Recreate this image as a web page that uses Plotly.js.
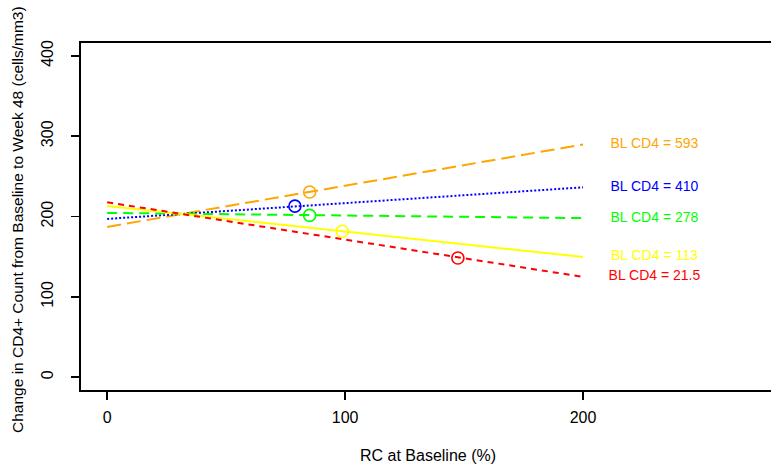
<!DOCTYPE html>
<html>
<head>
<meta charset="utf-8">
<script src="https://cdn.plot.ly/plotly-3.0.1.min.js"></script>
<style>
html,body{margin:0;padding:0;background:#fff;overflow:hidden;}
#chart{width:771px;height:468px;}
</style>
</head>
<body>
<div id="chart"></div>
<script>
// Data
var groups = ['593', '410', '278', '113', '21.5'];
var lineColors = ['#FFA500', '#0000FF', '#00FF00', '#FFFF00', '#FF0000'];
var lineDashes = ['14px,6px', '2px,2px', '10px,6px', 'solid', '6px,5px'];
var rcStart = [0, 0, 0, 0, 0];
var rcEnd = [200, 200, 200, 200, 200];
var cd4AtStart = [187, 197, 204.5, 213, 217.7];
var cd4AtEnd = [289.6, 236.3, 198, 149.6, 124.8];
var medianRC = [85.1, 78.9, 85.1, 98.8, 147.4];
var medianCD4 = [230.5, 212.9, 201.4, 181.7, 148.3];
var labelRC = 230;
var xTicks = [0, 100, 200];
var yTicks = [0, 100, 200, 300, 400];
var xTitle = 'RC at Baseline (%)';
var yTitle = 'Change in CD4+ Count from Baseline to Week 48 (cells/mm3)';

var font = 'Liberation Sans, Arial, Helvetica, sans-serif';
var traces = [];
for (var i = 0; i < groups.length; i++) {
  traces.push({
    type: 'scatter', mode: 'lines',
    x: [rcStart[i], rcEnd[i]], y: [cd4AtStart[i], cd4AtEnd[i]],
    line: {color: lineColors[i], width: 2, dash: lineDashes[i]},
    hoverinfo: 'skip', showlegend: false
  });
}
traces.push({
  type: 'scatter', mode: 'markers',
  x: medianRC, y: medianCD4,
  marker: {symbol: 'circle-open', size: 12, color: lineColors, line: {width: 1.6, color: lineColors}},
  showlegend: false
});
traces.push({
  type: 'scatter', mode: 'text',
  x: groups.map(function(){ return labelRC; }),
  y: cd4AtEnd,
  text: groups.map(function(g){ return 'BL CD4 = ' + g; }),
  textposition: 'middle center',
  textfont: {family: font, size: 14, color: lineColors},
  showlegend: false, hoverinfo: 'skip'
});

var layout = {
  width: 771, height: 468,
  margin: {l: 81, r: 0, t: 43, b: 78},
  paper_bgcolor: '#fff', plot_bgcolor: '#fff',
  font: {family: font, size: 16, color: '#000'},
  showlegend: false,
  xaxis: {
    range: [-11, 279], tickvals: xTicks,
    ticks: 'outside', ticklen: 8, tickwidth: 1.5, tickcolor: '#000',
    showgrid: false, zeroline: false,
    showline: true, mirror: true, linewidth: 2, linecolor: '#000',
    tickfont: {family: font, size: 16, color: '#000'},
    ticklabelstandoff: 4
  },
  yaxis: {
    range: [-16, 416], tickvals: yTicks,
    ticks: 'outside', ticklen: 8, tickwidth: 1.5, tickcolor: '#000',
    tickangle: -90, ticklabelposition: 'outside',
    showgrid: false, zeroline: false,
    showline: true, mirror: false, linewidth: 2, linecolor: '#000',
    tickfont: {family: font, size: 16, color: '#000'},
    ticklabelstandoff: 12
  },
  annotations: [
    {text: xTitle, xref: 'paper', yref: 'paper', x: 0.503, y: -0.19,
     xanchor: 'center', yanchor: 'middle', showarrow: false,
     font: {family: font, size: 16, color: '#000'}},
    {text: yTitle, xref: 'paper', yref: 'paper', x: -0.0913, y: 0.49,
     xanchor: 'center', yanchor: 'middle', textangle: -90, showarrow: false,
     font: {family: font, size: 15.5, color: '#000'}}
  ]
};
Plotly.newPlot('chart', traces, layout, {displayModeBar: false, staticPlot: true});
</script>
</body>
</html>
